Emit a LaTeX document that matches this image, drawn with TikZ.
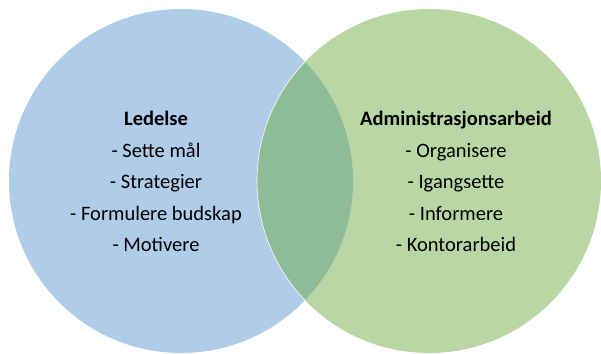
\documentclass[tikz,border=0pt]{standalone}
\usepackage{fontspec}
\setmainfont{Carlito}
\definecolor{lblue}{HTML}{AFCDE9}
\definecolor{lgreen}{HTML}{B9D6A5}
\definecolor{overlap}{HTML}{8EBC97}
\begin{document}
\begin{tikzpicture}[x=1pt,y=1pt,
  lbl/.style={font=\fontsize{20.5}{22}\selectfont, inner sep=0pt, anchor=base},
  hd/.style={lbl, font=\fontsize{20.5}{22}\selectfont\bfseries}]
\useasboundingbox (0,0) rectangle (601,353);
\fill[lblue] (181,172) circle (172);
\fill[lgreen] (429,172) circle (172);
\begin{scope}
  \clip (181,172) circle (172);
  \fill[overlap] (429,172) circle (172);
  \draw[white, line width=0.6pt] (429,172) circle (172);
\end{scope}
\node[hd] (l0) at (156,227) {Ledelse};
\node[lbl] (l1) at (156,195.5) {- Sette mål};
\node[lbl] (l2) at (156,164) {- Strategier};
\node[lbl] (l3) at (156,132.5) {- Formulere budskap};
\node[lbl] (l4) at (156,101) {- Motivere};
\node[hd] (r0) at (456,227) {Administrasjonsarbeid};
\node[lbl] (r1) at (456,195.5) {- Organisere};
\node[lbl] (r2) at (456,164) {- Igangsette};
\node[lbl] (r3) at (456,132.5) {- Informere};
\node[lbl] (r4) at (456,101) {- Kontorarbeid};
\end{tikzpicture}
\end{document}
